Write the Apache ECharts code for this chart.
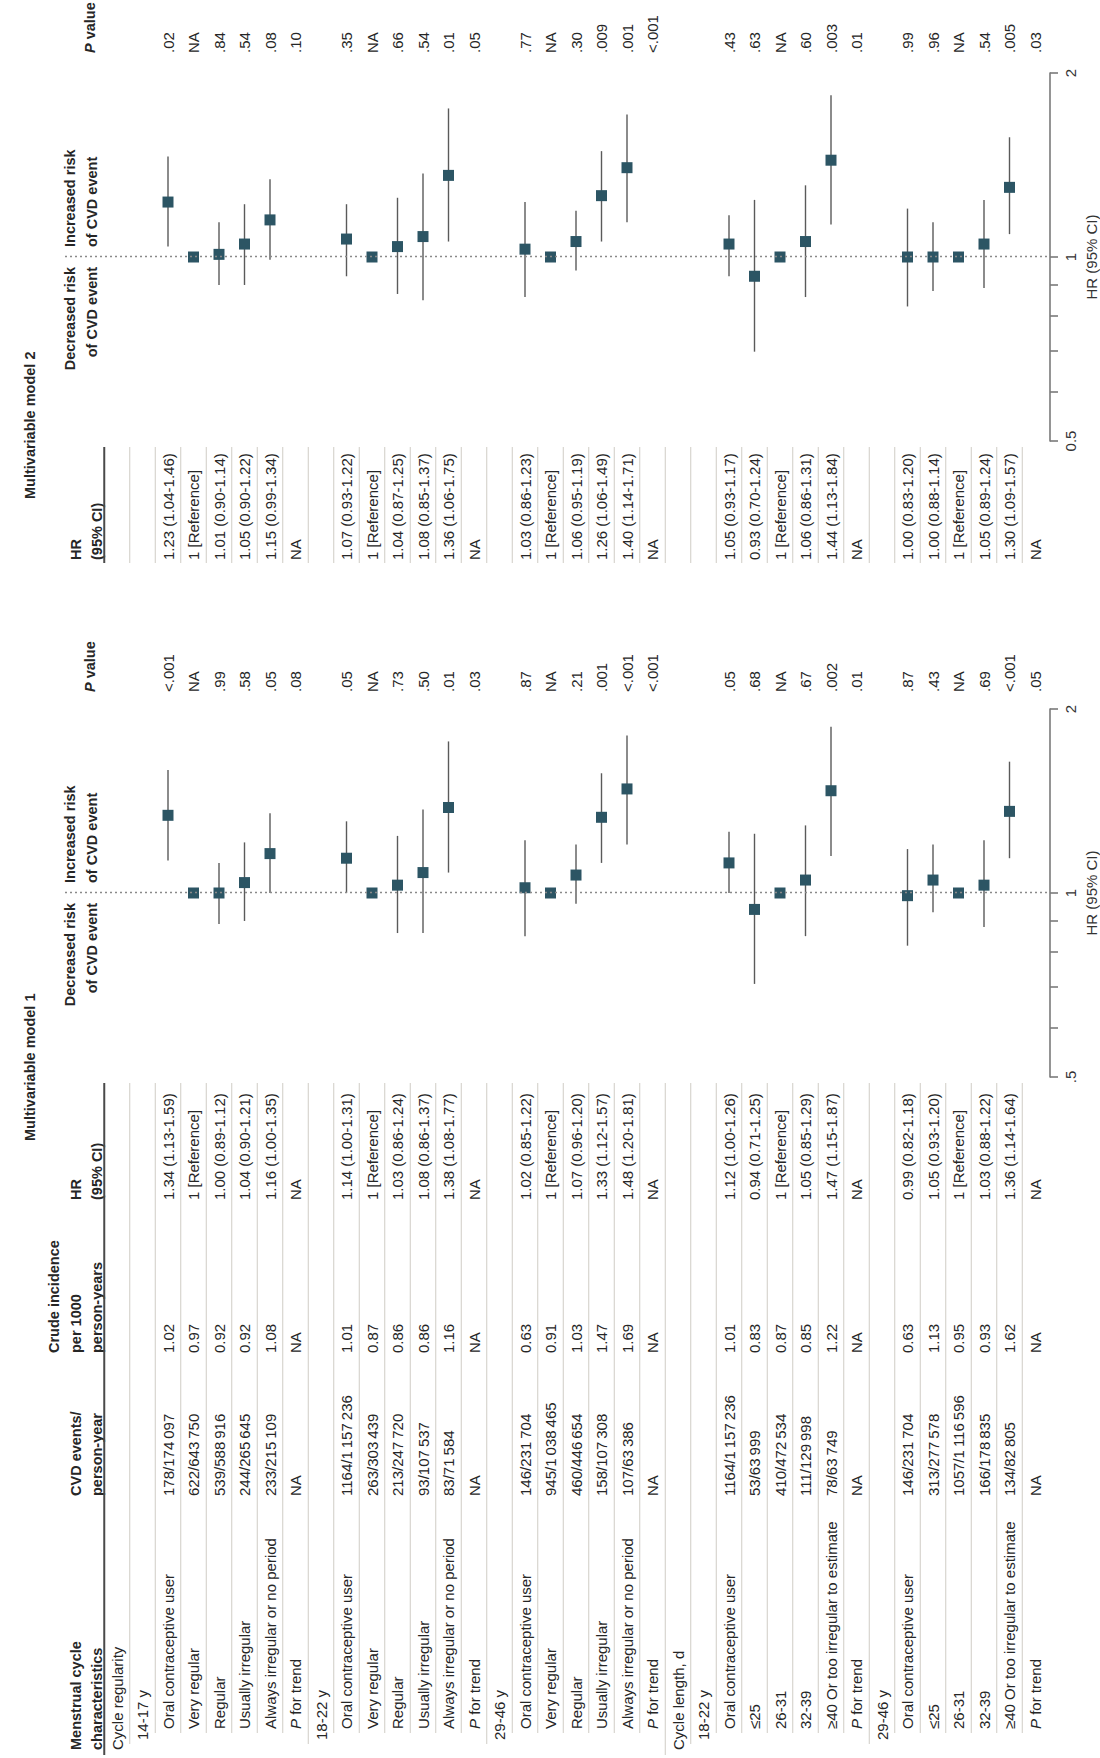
<!DOCTYPE html>
<html><head><meta charset="utf-8">
<script src="https://cdn.jsdelivr.net/npm/echarts@6/dist/echarts.min.js"></script>
<style>
html,body{margin:0;padding:0;background:#fff;overflow:hidden;}
#wrap{position:absolute;left:0;top:0;width:1100px;height:1758px;overflow:hidden;background:#fff;}
#chart{position:absolute;left:0;top:0;width:1758px;height:1100px;transform-origin:0 0;transform:translate(0px,1758px) rotate(-90deg);}
</style></head>
<body><div id="wrap"><div id="chart"></div></div>
<script>
// ---------------- DATA ----------------
const rowLabels = ['Cycle regularity','14-17 y','Oral contraceptive user','Very regular','Regular','Usually irregular','Always irregular or no period','P for trend',
 '18-22 y','Oral contraceptive user','Very regular','Regular','Usually irregular','Always irregular or no period','P for trend',
 '29-46 y','Oral contraceptive user','Very regular','Regular','Usually irregular','Always irregular or no period','P for trend',
 'Cycle length, d','18-22 y','Oral contraceptive user','≤25','26-31','32-39','≥40 Or too irregular to estimate','P for trend',
 '29-46 y','Oral contraceptive user','≤25','26-31','32-39','≥40 Or too irregular to estimate','P for trend'];
const rowLevels = [0,1,2,2,2,2,2,2, 1,2,2,2,2,2,2, 1,2,2,2,2,2,2, 0,1,2,2,2,2,2,2, 1,2,2,2,2,2,2];
const cvdEvents = ['','','178/174\u2009097','622/643\u2009750','539/588\u2009916','244/265\u2009645','233/215\u2009109','NA',
 '','1164/1\u2009157\u2009236','263/303\u2009439','213/247\u2009720','93/107\u2009537','83/71\u2009584','NA',
 '','146/231\u2009704','945/1\u2009038\u2009465','460/446\u2009654','158/107\u2009308','107/63\u2009386','NA',
 '','','1164/1\u2009157\u2009236','53/63\u2009999','410/472\u2009534','111/129\u2009998','78/63\u2009749','NA',
 '','146/231\u2009704','313/277\u2009578','1057/1\u2009116\u2009596','166/178\u2009835','134/82\u2009805','NA'];
const crudeIncidence = ['','','1.02','0.97','0.92','0.92','1.08','NA','','1.01','0.87','0.86','0.86','1.16','NA',
 '','0.63','0.91','1.03','1.47','1.69','NA','','','1.01','0.83','0.87','0.85','1.22','NA','','0.63','1.13','0.95','0.93','1.62','NA'];
const m1HR = [null,null,1.34,1,1.00,1.04,1.16,null, null,1.14,1,1.03,1.08,1.38,null, null,1.02,1,1.07,1.33,1.48,null, null,null,1.12,0.94,1,1.05,1.47,null, null,0.99,1.05,1,1.03,1.36,null];
const m1Lo = [null,null,1.13,null,0.89,0.90,1.00,null, null,1.00,null,0.86,0.86,1.08,null, null,0.85,null,0.96,1.12,1.20,null, null,null,1.00,0.71,null,0.85,1.15,null, null,0.82,0.93,null,0.88,1.14,null];
const m1Hi = [null,null,1.59,null,1.12,1.21,1.35,null, null,1.31,null,1.24,1.37,1.77,null, null,1.22,null,1.20,1.57,1.81,null, null,null,1.26,1.25,null,1.29,1.87,null, null,1.18,1.20,null,1.22,1.64,null];
const m1P = ['','','<.001','NA','.99','.58','.05','.08','','.05','NA','.73','.50','.01','.03','','.87','NA','.21','.001','<.001','<.001',
 '','','.05','.68','NA','.67','.002','.01','','.87','.43','NA','.69','<.001','.05'];
const m2HR = [null,null,1.23,1,1.01,1.05,1.15,null, null,1.07,1,1.04,1.08,1.36,null, null,1.03,1,1.06,1.26,1.40,null, null,null,1.05,0.93,1,1.06,1.44,null, null,1.00,1.00,1,1.05,1.30,null];
const m2Lo = [null,null,1.04,null,0.90,0.90,0.99,null, null,0.93,null,0.87,0.85,1.06,null, null,0.86,null,0.95,1.06,1.14,null, null,null,0.93,0.70,null,0.86,1.13,null, null,0.83,0.88,null,0.89,1.09,null];
const m2Hi = [null,null,1.46,null,1.14,1.22,1.34,null, null,1.22,null,1.25,1.37,1.75,null, null,1.23,null,1.19,1.49,1.71,null, null,null,1.17,1.24,null,1.31,1.84,null, null,1.20,1.14,null,1.24,1.57,null];
const m2P = ['','','.02','NA','.84','.54','.08','.10','','.35','NA','.66','.54','.01','.05','','.77','NA','.30','.009','.001','<.001',
 '','','.43','.63','NA','.60','.003','.01','','.99','.96','NA','.54','.005','.03'];
const tickValues = [0.5,0.6,0.7,0.8,0.9,1,2];
const labelValues = [0.5,1,2];
const m1TickLabels = ['.5','1','2'];
const m2TickLabels = ['0.5','1','2'];

// ---------------- LAYOUT / STYLE ----------------
const FONT = '"Liberation Sans", Arial, sans-serif';
const TXT = '#262626';
const ROW0 = 117, ROWH = 25.5;
const rowY = i => ROW0 + ROWH * i;
const indentX = [8, 18, 29];
const lineIndentX = [3, 14, 25];
const COL = {cvd: 262, crude: 405, hr1: 558, hr1End: 675, p1: 1066, hr2: 1198, hr2Start: 1195, hr2End: 1311, p2: 1705};
const G1 = {left: 681, width: 368}, G2 = {left: 1317, width: 368};
const GTOP = 65, GBOT = 1050;

const graphics = [];
function addText(x, y, text, o) {
  o = o || {};
  const st = {
    text: text, fill: o.fill || TXT,
    fontFamily: FONT, fontSize: o.size || 15, fontWeight: o.weight || 'normal', fontStyle: 'normal',
    align: o.align || 'left', textAlign: o.align || 'left',
    verticalAlign: 'middle', textVerticalAlign: 'middle'
  };
  if (o.rich) st.rich = o.rich;
  graphics.push({type: 'text', x: x, y: y, silent: true, style: st});
}
function addLine(x1, y1, x2, y2, stroke, w) {
  graphics.push({type: 'line', silent: true, shape: {x1: x1, y1: y1, x2: x2, y2: y2}, style: {stroke: stroke, lineWidth: w}});
}
const italicRich = (weight, size) => ({i: {fontStyle: 'italic', fontWeight: weight, fontFamily: FONT, fontSize: size, fill: TXT}});

// headers
const HW = 'bold', HS = 14.5;
addText(indentX[0], 76, 'Menstrual cycle', {weight: HW, size: HS});
addText(indentX[0], 97, 'characteristics', {weight: HW, size: HS});
addText(COL.cvd, 76, 'CVD events/', {weight: HW, size: HS});
addText(COL.cvd, 97, 'person-year', {weight: HW, size: HS});
addText(COL.crude, 54, 'Crude incidence', {weight: HW, size: HS});
addText(COL.crude, 76, 'per 1000', {weight: HW, size: HS});
addText(COL.crude, 97, 'person-years', {weight: HW, size: HS});
[[COL.hr1, G1, COL.p1, 'Multivariable model 1', 617], [COL.hr2, G2, COL.p2, 'Multivariable model 2', 1259]].forEach(function (m) {
  addText(m[0], 76, 'HR', {weight: HW, size: HS});
  addText(m[0], 97, '(95% CI)', {weight: HW, size: HS});
  const x1 = m[1].left + m[1].width / 2;
  addText(x1 - 10, 70, 'Decreased risk', {weight: HW, size: HS, align: 'right'});
  addText(x1 - 10, 92, 'of CVD event', {weight: HW, size: HS, align: 'right'});
  addText(x1 + 10, 70, 'Increased risk', {weight: HW, size: HS});
  addText(x1 + 10, 92, 'of CVD event', {weight: HW, size: HS});
  addText(m[2], 90, '{i|P} value', {weight: HW, size: HS, rich: italicRich('bold', HS)});
  addText(m[4], 30, m[3], {weight: HW, size: HS});
});

// header rules
addLine(3, 104.25, COL.hr1End, 104.25, '#4a4a4a', 2);
addLine(COL.hr2Start, 104.25, COL.hr2End, 104.25, '#4a4a4a', 2);

function hrText(hr, lo, hi, i) {
  if (rowLabels[i] === 'P for trend') return 'NA';
  if (hr === null) return '';
  if (lo === null) return '1 [Reference]';
  return hr.toFixed(2) + ' (' + lo.toFixed(2) + '-' + hi.toFixed(2) + ')';
}

rowLabels.forEach(function (lab, i) {
  const y = rowY(i);
  const lvl = rowLevels[i];
  if (i > 0) {
    const ly = y - ROWH / 2;
    addLine(lineIndentX[lvl], ly, COL.hr1End, ly, '#cfccc5', 1);
    addLine(COL.hr2Start, ly, COL.hr2End, ly, '#cfccc5', 1);
  }
  if (lab === 'P for trend') {
    addText(indentX[lvl], y, '{i|P} for trend', {rich: italicRich('normal', 15)});
  } else {
    addText(indentX[lvl], y, lab);
  }
  if (cvdEvents[i]) addText(COL.cvd, y, cvdEvents[i]);
  if (crudeIncidence[i]) addText(COL.crude, y, crudeIncidence[i]);
  const t1 = hrText(m1HR[i], m1Lo[i], m1Hi[i], i);
  if (t1) addText(COL.hr1, y, t1);
  const t2 = hrText(m2HR[i], m2Lo[i], m2Hi[i], i);
  if (t2) addText(COL.hr2, y, t2);
  if (m1P[i]) addText(COL.p1, y, m1P[i]);
  if (m2P[i]) addText(COL.p2, y, m2P[i]);
});

// ---------------- CHART ----------------
const L2 = Math.log2;
function pointData(hr) {
  const d = [];
  hr.forEach(function (v, i) { if (v !== null) d.push([L2(v), i]); });
  return d;
}
function ciData(lo, hi) {
  const d = [];
  lo.forEach(function (v, i) { if (v !== null) d.push([L2(v), L2(hi[i]), i]); });
  return d;
}
function fmt(labels) {
  return function (v) {
    for (let k = 0; k < labelValues.length; k++) if (Math.abs(L2(labelValues[k]) - v) < 1e-6) return labels[k];
    return '';
  };
}
function xAxisCfg(idx, labels) {
  return {
    gridIndex: idx, type: 'value', min: -1, max: 1, position: 'bottom',
    axisLine: {show: true, onZero: false, lineStyle: {color: '#7a7a7a', width: 1.6}},
    axisTick: {show: true, inside: false, length: 8, customValues: tickValues.map(L2), lineStyle: {color: '#7a7a7a', width: 1.6}},
    axisLabel: {show: true, margin: 13, customValues: labelValues.map(L2), formatter: fmt(labels), color: '#333', fontFamily: FONT, fontSize: 15, hideOverlap: false},
    splitLine: {show: false},
    name: 'HR (95% CI)', nameLocation: 'middle', nameGap: 34,
    nameTextStyle: {color: '#333', fontFamily: FONT, fontSize: 15}
  };
}
function yAxisCfg(idx) {
  return {gridIndex: idx, type: 'value', inverse: true, show: false,
    min: (GTOP - ROW0) / ROWH, max: (GBOT - ROW0) / ROWH, splitLine: {show: false}};
}
function modelSeries(idx, hr, lo, hi) {
  return [
    {type: 'custom', xAxisIndex: idx, yAxisIndex: idx, silent: true, z: 2,
      data: ciData(lo, hi), encode: {x: [0, 1], y: 2},
      renderItem: function (params, api) {
        const a = api.coord([api.value(0), api.value(2)]);
        const b = api.coord([api.value(1), api.value(2)]);
        return {type: 'line', shape: {x1: a[0], y1: a[1], x2: b[0], y2: b[1]}, style: {stroke: '#5a5a5a', lineWidth: 1.4}};
      }},
    {type: 'scatter', xAxisIndex: idx, yAxisIndex: idx, silent: true, z: 3,
      symbol: 'rect', symbolSize: 11, itemStyle: {color: '#2c5564', opacity: 1},
      data: pointData(hr),
      markLine: {silent: true, symbol: 'none', label: {show: false}, animation: false,
        lineStyle: {color: '#8a8a8a', width: 1.3, type: [2, 3]}, data: [{xAxis: 0}]}}
  ];
}

const chart = echarts.init(document.getElementById('chart'), null, {renderer: 'svg', width: 1758, height: 1100});
chart.setOption({
  animation: false,
  backgroundColor: '#fff',
  grid: [
    {left: G1.left, width: G1.width, top: GTOP, height: GBOT - GTOP, containLabel: false, outerBoundsMode: 'none'},
    {left: G2.left, width: G2.width, top: GTOP, height: GBOT - GTOP, containLabel: false, outerBoundsMode: 'none'}
  ],
  xAxis: [xAxisCfg(0, m1TickLabels), xAxisCfg(1, m2TickLabels)],
  yAxis: [yAxisCfg(0), yAxisCfg(1)],
  series: modelSeries(0, m1HR, m1Lo, m1Hi).concat(modelSeries(1, m2HR, m2Lo, m2Hi)),
  graphic: {elements: graphics}
});
</script>
</body></html>
